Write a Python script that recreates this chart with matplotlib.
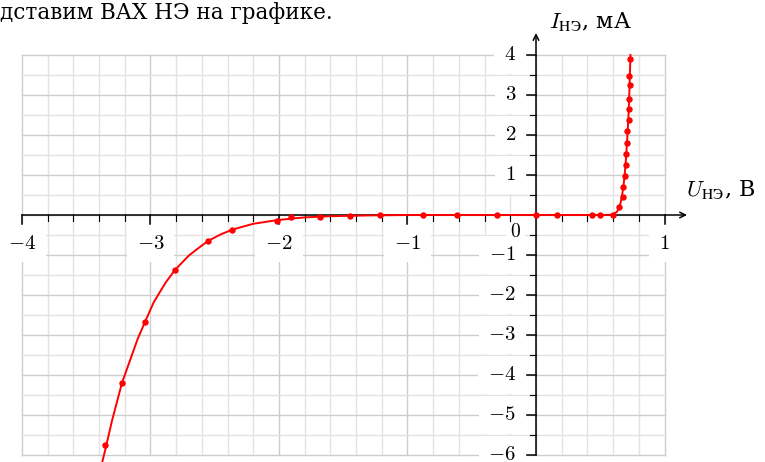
import numpy as np
import matplotlib
matplotlib.use("Agg")
import matplotlib.pyplot as plt

plt.rcParams['mathtext.fontset'] = 'cm'
plt.rcParams['font.family'] = ['DejaVu Serif']

# measured points: voltage (V), current (mA)
u_pts = [-3.354, -3.222, -3.043, -2.81, -2.553, -2.366, -2.018, -1.907, -1.681,
         -1.447, -1.214, -0.877, -0.617, -0.306, 0.0, 0.166, 0.433, 0.498, 0.597,
         0.648, 0.68, 0.68, 0.69, 0.70, 0.70, 0.711, 0.711, 0.721, 0.721, 0.721,
         0.732, 0.721, 0.732]
i_pts = [-5.75, -4.2, -2.675, -1.375, -0.65, -0.375, -0.14, -0.06, -0.04,
         -0.02, -0.01, 0.0, 0.0, 0.0, 0.0, 0.0, 0.0, 0.0, 0.0,
         0.19, 0.44, 0.69, 0.975, 1.25, 1.525, 1.79, 2.1, 2.375, 2.64, 2.89,
         3.24, 3.48, 3.9]

# approximating curve
u_fit = [-3.385, -3.354, -3.30, -3.222, -3.15, -3.10, -3.043, -2.973, -2.882, -2.81, -2.70,
         -2.62, -2.553, -2.45, -2.366, -2.28, -2.2, -2.1, -2.018, -1.9, -1.8, -1.6,
         -1.3, -1.0, 0.0, 0.55, 0.60, 0.63, 0.65, 0.665, 0.68, 0.69, 0.70, 0.71,
         0.72, 0.728, 0.735]
i_fit = [-6.3, -5.9, -5.15, -4.2, -3.55, -3.1, -2.675, -2.17, -1.69, -1.375, -1.01,
         -0.81, -0.65, -0.48, -0.37, -0.29, -0.22, -0.17, -0.13, -0.09, -0.06, -0.03,
         -0.01, 0.0, 0.0, 0.0, 0.01, 0.08, 0.2, 0.4, 0.7, 1.0, 1.4, 1.9,
         2.5, 3.2, 4.0]

x_major = [-4, -3, -2, -1, 1]
y_major = [4, 3, 2, 1, -1, -2, -3, -4, -5, -6]

fig = plt.figure(figsize=(7.65, 4.62), dpi=100)
ax = fig.add_axes([0, 0, 1, 1])
ax.set_xlim(-4.171, 1.782)
ax.set_ylim(-6.175, 5.375)
ax.axis('off')

px_x = 1 / 128.5   # one pixel in volts
px_y = 1 / 40.0    # one pixel in mA

# grid
for x in np.arange(-4, 1.01, 0.2):
    major = abs(x - round(x)) < 1e-6
    ax.plot([x, x], [-6, 4], color='#cdcdcd' if major else '#e3e3e3', lw=1.0, zorder=1)
for y in np.arange(-6, 4.01, 0.5):
    major = abs(y - round(y)) < 1e-6
    ax.plot([-4, 1], [y, y], color='#cdcdcd' if major else '#e3e3e3', lw=1.0, zorder=1)

# tick labels with white boxes (they hide the grid underneath)
box = dict(fc='white', ec='none', pad=7)
for x in x_major:
    lab = r'$%d$' % x if x > 0 else r'$-%d$' % (-x)
    ax.text(x, -28 * px_y, lab, ha='center', va='center', fontsize=15, bbox=box, zorder=2)
for y in y_major:
    lab = r'$%d$' % y if y > 0 else r'$-%d$' % (-y)
    ax.text(-20 * px_x, y, lab, ha='right', va='center', fontsize=15, bbox=box, zorder=2)
ax.text(-15 * px_x, -17 * px_y, r'$0$', ha='right', va='center', fontsize=14,
        bbox=dict(fc='white', ec='none', pad=3), zorder=2)

# axes with arrows
ax.annotate('', xy=(1.175, 0), xytext=(-4, 0),
            arrowprops=dict(arrowstyle='->', lw=1.1, color='black', shrinkA=0, shrinkB=0), zorder=3)
ax.annotate('', xy=(0, 4.55), xytext=(0, -6),
            arrowprops=dict(arrowstyle='->', lw=1.1, color='black', shrinkA=0, shrinkB=0), zorder=3)

# ticks
for x in np.arange(-4, 1.01, 0.2):
    major = abs(x - round(x)) < 1e-6
    if abs(x) < 1e-6:
        continue
    ln = 9 if major else 6
    ax.plot([x, x], [0, -ln * px_y], color='black', lw=1.1 if major else 0.8, zorder=3)
for y in np.arange(-6, 4.01, 0.5):
    major = abs(y - round(y)) < 1e-6
    if abs(y) < 1e-6:
        continue
    ln = 9 if major else 6
    ax.plot([0, -ln * px_x], [y, y], color='black', lw=1.1 if major else 0.8, zorder=3)

# curve and points
ax.plot(u_fit, i_fit, color='red', lw=1.4, zorder=5)
ax.plot(u_pts, i_pts, 'o', color='red', ms=3.6, zorder=6)

# axis labels
ax.text(0.105, 4.83, r'$I_{\mathrm{НЭ}}$, мА', fontsize=16, ha='left', va='center')
ax.text(1.165, 0.63, r'$U_{\mathrm{НЭ}}$, В', fontsize=16, ha='left', va='center')

fig.text(0.0, 0.995, 'дставим ВАХ НЭ на графике.', fontsize=15.5, ha='left', va='top')

fig.savefig('out.png', dpi=100)
